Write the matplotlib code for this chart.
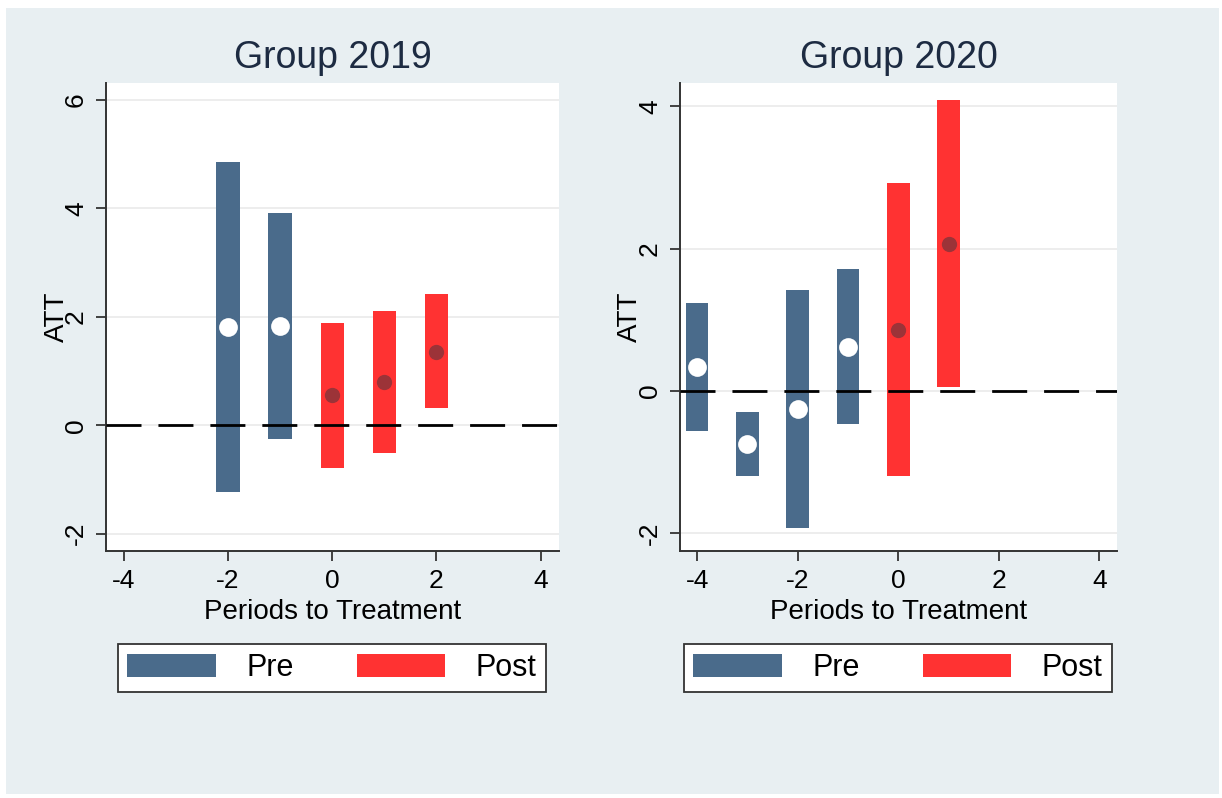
import matplotlib
matplotlib.use("Agg")
import matplotlib.pyplot as plt
from matplotlib.patches import Patch, Rectangle

plt.rcParams["font.family"] = ["Liberation Sans", "DejaVu Sans"]
plt.rcParams["axes.unicode_minus"] = False

# Group 2019: periods, estimates and CI bounds
g19_x = [-2, -1, 0, 1, 2]
g19_att = [1.81, 1.82, 0.55, 0.80, 1.35]
g19_lo = [-1.23, -0.25, -0.79, -0.52, 0.31]
g19_hi = [4.85, 3.91, 1.88, 2.10, 2.41]
g19_post = [False, False, True, True, True]

# Group 2020
g20_x = [-4, -3, -2, -1, 0, 1]
g20_att = [0.34, -0.74, -0.25, 0.62, 0.86, 2.07]
g20_lo = [-0.56, -1.20, -1.92, -0.46, -1.20, 0.06]
g20_hi = [1.23, -0.30, 1.42, 1.72, 2.93, 4.09]
g20_post = [False, False, False, False, True, True]

PRE_COLOR = "#4a6b8b"
POST_COLOR = "#ff3232"
PRE_DOT = "white"
POST_DOT = "#9c3338"
BG = "#e8eff2"
TITLE_COLOR = "#1d2b42"

W, H = 1222, 798
fig = plt.figure(figsize=(W / 100, H / 100), dpi=100, facecolor="white")
fig.patches.append(Rectangle((6 / W, 1 - 794 / H), 1213 / W, 786 / H,
                             transform=fig.transFigure, facecolor=BG,
                             edgecolor="none", zorder=-10))


def panel(rect, title, xs, att, lo, hi, post, yticks, ylim, legend_center, ylab_x):
    ax = fig.add_axes([rect[0] / W, 1 - rect[3] / H,
                       (rect[2] - rect[0]) / W, (rect[3] - rect[1]) / H])
    ax.set_facecolor("white")
    colors = [POST_COLOR if p else PRE_COLOR for p in post]
    heights = [h - l for h, l in zip(hi, lo)]
    ax.bar(xs, heights, bottom=lo, width=0.45, color=colors, zorder=2)
    ax.axhline(0, color="black", lw=2, linestyle=(0, (12.6, 6.1)), zorder=3)
    pre_x = [x for x, p in zip(xs, post) if not p]
    pre_y = [a for a, p in zip(att, post) if not p]
    post_x = [x for x, p in zip(xs, post) if p]
    post_y = [a for a, p in zip(att, post) if p]
    ax.plot(pre_x, pre_y, "o", ms=13.5, color=PRE_DOT, mec="none", zorder=4)
    ax.plot(post_x, post_y, "o", ms=11, color=POST_DOT, mec="none", zorder=4)

    ax.set_xlim(-4.34, 4.35)
    ax.set_ylim(*ylim)
    ax.set_xticks([-4, -2, 0, 2, 4])
    ax.set_yticks(yticks)
    ax.yaxis.grid(True, color="#ececec", lw=1.3)
    ax.set_axisbelow(True)
    for s in ("top", "right"):
        ax.spines[s].set_visible(False)
    for s in ("left", "bottom"):
        ax.spines[s].set_color("#333333")
        ax.spines[s].set_linewidth(1.4)
    ax.tick_params(axis="both", length=7, width=1.3, color="#333333",
                   labelsize=19, pad=6)
    ax.tick_params(axis="y", labelrotation=90)
    for lab in ax.get_yticklabels():
        lab.set_va("center")

    ax.set_title(title, fontsize=27, color=TITLE_COLOR, pad=11)
    ax.set_xlabel("Periods to Treatment", fontsize=20)
    ax.set_ylabel("ATT", fontsize=20)
    ax.xaxis.set_label_coords(0.5, -0.103)
    ax.yaxis.set_label_coords(ylab_x, 0.5)

    handles = [Patch(facecolor=PRE_COLOR, edgecolor="none", label="Pre"),
               Patch(facecolor=POST_COLOR, edgecolor="none", label="Post")]
    leg = ax.legend(handles=handles, ncol=2, loc="center",
                    bbox_to_anchor=(legend_center[0] / W, 1 - legend_center[1] / H),
                    bbox_transform=fig.transFigure, fontsize=22,
                    handlelength=2.9, handleheight=0.75, handletextpad=1.0,
                    columnspacing=2.05, borderpad=0.3, fancybox=False,
                    framealpha=1, edgecolor="#333333")
    leg.get_frame().set_linewidth(1.3)
    return ax


panel((106, 83, 559, 551), "Group 2019", g19_x, g19_att, g19_lo, g19_hi,
      g19_post, [-2, 0, 2, 4, 6], (-2.32, 6.31), (332, 668), -0.08)
panel((680, 83, 1117, 551), "Group 2020", g20_x, g20_att, g20_lo, g20_hi,
      g20_post, [-2, 0, 2, 4], (-2.25, 4.33), (898, 668), -0.085)

fig.savefig("out.png", dpi=100, facecolor="white")
